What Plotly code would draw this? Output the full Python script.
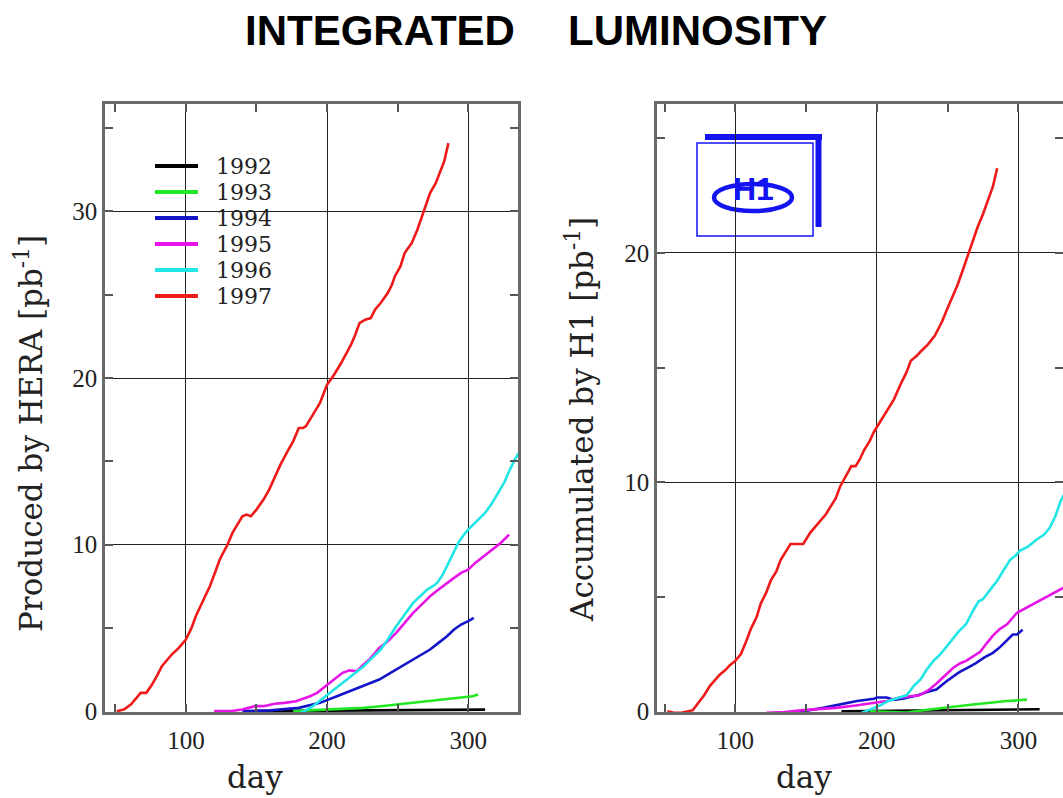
import plotly.graph_objects as go

# ---------------- data ----------------
years = ["1992", "1993", "1994", "1995", "1996", "1997"]
colors = ["#000000", "#22e622", "#1414c8", "#e614e6", "#22e6e6", "#ee1a1a"]

# Left panel: produced by HERA [pb^-1]
hera_day_1992 = [150, 180, 210, 240, 255, 270, 285, 300, 312]
hera_lumi_1992 = [0.0, 0.01, 0.02, 0.03, 0.05, 0.06, 0.07, 0.08, 0.09]

hera_day_1993 = [176, 190, 202, 214, 226, 238, 249, 261, 273, 285, 296, 303, 307]
hera_lumi_1993 = [0.0, 0.05, 0.1, 0.15, 0.2, 0.3, 0.4, 0.5, 0.6, 0.7, 0.8, 0.9, 1.0]

hera_day_1994 = [140, 160, 180, 195, 207, 216, 226, 237, 245, 253, 261, 267, 273, 279, 285, 290, 295, 300, 304]
hera_lumi_1994 = [0.0, 0.05, 0.2, 0.5, 0.9, 1.2, 1.5, 1.9, 2.3, 2.7, 3.1, 3.4, 3.7, 4.1, 4.5, 4.9, 5.2, 5.4, 5.6]

hera_day_1995 = [120, 131, 140, 149, 155, 163, 170, 178, 188, 193, 202, 211, 216, 221, 226, 230, 237,
                 243, 249, 255, 261, 267, 273, 279, 285, 290, 295, 300, 305, 311, 317, 323, 329]
hera_lumi_1995 = [0.0, 0.0, 0.1, 0.3, 0.3, 0.45, 0.5, 0.6, 0.9, 1.1, 1.7, 2.3, 2.45, 2.4, 2.8, 3.1, 3.8,
                  4.2, 4.7, 5.3, 5.9, 6.4, 6.9, 7.3, 7.7, 8.0, 8.3, 8.5, 8.9, 9.3, 9.7, 10.1, 10.6]

hera_day_1996 = [178, 184, 190, 196, 202, 208, 214, 220, 226, 232, 238, 243, 249, 255, 261, 266, 271,
                 275, 278, 282, 285, 289, 293, 297, 300, 306, 312, 317, 322, 326, 329, 333, 338]
hera_lumi_1996 = [-0.2, 0.0, 0.3, 0.7, 1.1, 1.5, 1.9, 2.3, 2.7, 3.2, 3.7, 4.3, 5.1, 5.8, 6.5, 6.9, 7.3,
                  7.5, 7.7, 8.2, 8.7, 9.4, 10.1, 10.6, 10.9, 11.4, 11.9, 12.5, 13.2, 13.8, 14.4, 15.1, 15.8]

hera_day_1997 = [51, 56, 61, 65, 68, 72, 76, 80, 83, 87, 90, 95, 100, 104, 107, 112, 117, 121, 124, 127,
                 129, 133, 137, 140, 143, 146, 150, 155, 159, 163, 167, 172, 176, 180, 183, 185, 190,
                 195, 200, 205, 210, 214, 217, 220, 223, 227, 231, 234, 238, 243, 246, 248, 252, 255,
                 260, 264, 268, 273, 277, 280, 283, 286]
hera_lumi_1997 = [0.0, 0.1, 0.4, 0.8, 1.1, 1.1, 1.6, 2.2, 2.7, 3.1, 3.4, 3.8, 4.3, 5.0, 5.7, 6.6, 7.5, 8.4,
                  9.1, 9.6, 9.9, 10.7, 11.3, 11.7, 11.8, 11.7, 12.1, 12.7, 13.3, 14.1, 14.8, 15.6, 16.2,
                  17.0, 17.0, 17.1, 17.8, 18.5, 19.6, 20.2, 20.9, 21.5, 22.0, 22.6, 23.3, 23.5, 23.6,
                  24.1, 24.5, 25.1, 25.6, 26.1, 26.7, 27.5, 28.1, 28.9, 29.9, 31.1, 31.7, 32.3, 33.0, 34.1]

# Right panel: accumulated by H1 [pb^-1]
h1_day_1992 = [175, 196, 215, 235, 255, 270, 285, 300, 315]
h1_lumi_1992 = [0.0, 0.01, 0.02, 0.03, 0.04, 0.05, 0.06, 0.08, 0.09]

h1_day_1993 = [195, 208, 221, 233, 245, 257, 268, 280, 292, 300, 306]
h1_lumi_1993 = [0.0, -0.03, -0.05, 0.05, 0.15, 0.22, 0.3, 0.38, 0.45, 0.48, 0.51]

h1_day_1994 = [143, 148, 162, 174, 186, 198, 200, 207, 212, 218, 229, 236, 242, 249, 258, 264, 270,
               276, 282, 287, 292, 296, 299, 303]
h1_lumi_1994 = [-0.07, 0.0, 0.15, 0.3, 0.45, 0.55, 0.6, 0.6, 0.5, 0.55, 0.7, 0.85, 0.95, 1.3, 1.7, 1.9,
                2.1, 2.35, 2.55, 2.8, 3.1, 3.35, 3.35, 3.56]

h1_day_1995 = [122, 135, 148, 160, 171, 185, 198, 207, 216, 223, 230, 236, 242, 248, 254, 259, 263,
               268, 273, 278, 282, 287, 292, 299, 305, 311, 317, 323, 329, 335]
h1_lumi_1995 = [-0.07, -0.03, 0.05, 0.1, 0.15, 0.25, 0.35, 0.45, 0.6, 0.65, 0.7, 0.9, 1.2, 1.55, 1.9,
                2.1, 2.2, 2.4, 2.6, 3.0, 3.3, 3.6, 3.8, 4.3, 4.5, 4.7, 4.9, 5.1, 5.3, 5.5]

h1_day_1996 = [184, 190, 196, 202, 208, 216, 221, 226, 231, 235, 240, 245, 250, 254, 258, 263, 268,
               272, 275, 280, 285, 290, 294, 298, 301, 307, 313, 318, 322, 326, 330, 336]
h1_lumi_1996 = [-0.2, -0.05, 0.08, 0.25, 0.45, 0.6, 0.7, 1.1, 1.4, 1.8, 2.2, 2.5, 2.9, 3.2, 3.5, 3.8,
                4.4, 4.8, 4.9, 5.3, 5.7, 6.2, 6.6, 6.8, 7.0, 7.2, 7.5, 7.7, 8.0, 8.5, 9.2, 9.9]

h1_day_1997 = [52, 56, 61, 66, 70, 73, 78, 82, 86, 89, 93, 96, 100, 104, 108, 111, 115, 118, 122, 125,
               129, 132, 136, 139, 143, 148, 153, 157, 160, 164, 167, 171, 174, 179, 182, 185, 188,
               191, 195, 198, 202, 205, 209, 212, 217, 221, 224, 228, 231, 236, 241, 246, 250, 254,
               257, 261, 265, 268, 271, 275, 278, 282, 285]
h1_lumi_1997 = [0.0, -0.05, -0.07, 0.0, 0.05, 0.3, 0.7, 1.1, 1.4, 1.6, 1.8, 2.0, 2.2, 2.5, 3.1, 3.6,
                4.1, 4.7, 5.2, 5.7, 6.1, 6.6, 7.0, 7.3, 7.3, 7.3, 7.8, 8.1, 8.3, 8.6, 8.9, 9.3, 9.8,
                10.4, 10.7, 10.7, 11.0, 11.4, 11.8, 12.2, 12.6, 12.9, 13.3, 13.6, 14.3, 14.8, 15.3,
                15.5, 15.7, 16.0, 16.4, 17.0, 17.6, 18.2, 18.6, 19.3, 20.0, 20.5, 21.1, 21.7, 22.2,
                22.9, 23.7]

hera_days = [hera_day_1992, hera_day_1993, hera_day_1994, hera_day_1995, hera_day_1996, hera_day_1997]
hera_lumis = [hera_lumi_1992, hera_lumi_1993, hera_lumi_1994, hera_lumi_1995, hera_lumi_1996, hera_lumi_1997]
h1_days = [h1_day_1992, h1_day_1993, h1_day_1994, h1_day_1995, h1_day_1996, h1_day_1997]
h1_lumis = [h1_lumi_1992, h1_lumi_1993, h1_lumi_1994, h1_lumi_1995, h1_lumi_1996, h1_lumi_1997]

x_tick_vals = [100, 200, 300]
x_tick_text = ["100", "200", "300"]

title_left_word = "INTEGRATED"
title_right_word = "LUMINOSITY"
ylabel_left = "Produced by HERA [pb<sup>-1</sup>]"
ylabel_right = "Accumulated by H1 [pb<sup>-1</sup>]"
xlabel = "day"

# ---------------- figure ----------------
W, H = 1063, 798


def fx(p):
    return p / W


def fy(p):
    return 1 - p / H


fig = go.Figure()

for i in range(len(years)):
    fig.add_trace(go.Scatter(x=hera_days[i], y=hera_lumis[i], mode="lines",
                             line=dict(color=colors[i], width=2.6), name=years[i],
                             xaxis="x", yaxis="y", showlegend=False))
for i in range(len(years)):
    fig.add_trace(go.Scatter(x=h1_days[i], y=h1_lumis[i], mode="lines",
                             line=dict(color=colors[i], width=2.6), name=years[i],
                             xaxis="x2", yaxis="y2", showlegend=False))

tickfont = dict(family="Liberation Serif", size=25, color="#222")
axis_common = dict(
    showgrid=True, gridcolor="#222", gridwidth=1.2,
    ticks="inside", ticklen=8, tickcolor="#555", tickwidth=1.5,
    showline=True, linecolor="#6a6a6a", linewidth=2.5, mirror="ticks",
    zeroline=False, tickfont=tickfont, automargin=False,
)
minor_x = dict(dtick=50, tick0=0, ticks="inside", ticklen=8, tickcolor="#555", showgrid=False)
minor_y = dict(dtick=5, tick0=0, ticks="inside", ticklen=8, tickcolor="#555", showgrid=False)

ydom = [fy(712), fy(104)]

fig.update_layout(
    width=W, height=H,
    margin=dict(l=0, r=0, t=0, b=0, autoexpand=False),
    paper_bgcolor="white", plot_bgcolor="white",
    showlegend=False,
    xaxis=dict(domain=[fx(105), fx(518)], range=[42.7, 335.3], anchor="y",
               tickvals=x_tick_vals, ticktext=x_tick_text, ticklabelstandoff=4,
               minor=minor_x, **axis_common),
    yaxis=dict(domain=ydom, range=[-0.05, 36.45], anchor="x",
               dtick=10, tick0=0, ticklabelstandoff=0,
               minor=minor_y, **axis_common),
    xaxis2=dict(domain=[fx(657), 1.0], range=[44.7, 331.5], anchor="y2",
                tickvals=x_tick_vals, ticktext=x_tick_text, ticklabelstandoff=4,
                minor=minor_x, **axis_common),
    yaxis2=dict(domain=ydom, range=[-0.03, 26.5], anchor="x2",
                dtick=10, tick0=0, ticklabelstandoff=0,
                minor=minor_y, **axis_common),
)

annotations = []
# title
tfont = dict(family="Liberation Sans", size=42, color="black")
annotations.append(dict(text="<b>" + title_left_word + "</b>", x=fx(380), y=fy(30), xref="paper",
                        yref="paper", xanchor="center", yanchor="middle", showarrow=False, font=tfont))
annotations.append(dict(text="<b>" + title_right_word + "</b>", x=fx(697), y=fy(30), xref="paper",
                        yref="paper", xanchor="center", yanchor="middle", showarrow=False, font=tfont))
# axis titles
lfont = dict(family="DejaVu Serif", size=31, color="#222")
annotations.append(dict(text=ylabel_left, x=fx(29), y=fy(434), xref="paper", yref="paper",
                        textangle=-90, xanchor="center", yanchor="middle", showarrow=False, font=lfont))
annotations.append(dict(text=ylabel_right, x=fx(580), y=fy(420), xref="paper", yref="paper",
                        textangle=-90, xanchor="center", yanchor="middle", showarrow=False, font=lfont))
annotations.append(dict(text=xlabel, x=fx(255), y=fy(777), xref="paper", yref="paper",
                        xanchor="center", yanchor="middle", showarrow=False, font=lfont))
annotations.append(dict(text=xlabel, x=fx(804), y=fy(777), xref="paper", yref="paper",
                        xanchor="center", yanchor="middle", showarrow=False, font=lfont))

shapes = []
# legend (left panel, upper-left corner): swatches + labels
leg_font = dict(family="DejaVu Serif", size=22, color="#222")
for i, yr in enumerate(years):
    yc = 166 + 26 * i
    shapes.append(dict(type="line", xref="paper", yref="paper", x0=fx(155), x1=fx(198),
                       y0=fy(yc), y1=fy(yc), line=dict(color=colors[i], width=4), layer="above"))
    annotations.append(dict(text=yr, x=fx(214), y=fy(yc), xref="paper", yref="paper",
                            xanchor="left", yanchor="middle", showarrow=False, height=24,
                            font=leg_font))

# H1 logo (right panel, upper-left corner)
logo_blue = "#1414f0"
shapes.append(dict(type="rect", xref="paper", yref="paper", x0=fx(697), x1=fx(813),
                   y0=fy(236), y1=fy(143), line=dict(color=logo_blue, width=1.5), layer="below"))
shapes.append(dict(type="line", xref="paper", yref="paper", x0=fx(705), x1=fx(822),
                   y0=fy(137), y1=fy(137), line=dict(color=logo_blue, width=6), layer="below"))
shapes.append(dict(type="line", xref="paper", yref="paper", x0=fx(818.5), x1=fx(818.5),
                   y0=fy(134), y1=fy(227), line=dict(color=logo_blue, width=6), layer="below"))
shapes.append(dict(type="circle", xref="paper", yref="paper", x0=fx(714), x1=fx(792),
                   y0=fy(211), y1=fy(184), line=dict(color=logo_blue, width=4.5), layer="below"))
annotations.append(dict(text="<b>H1</b>", x=fx(753), y=fy(189), xref="paper", yref="paper",
                        xanchor="center", yanchor="middle", showarrow=False,
                        font=dict(family="Liberation Sans", size=32, color=logo_blue)))

fig.update_layout(annotations=annotations, shapes=shapes)

fig.write_html("out.html", config={"displayModeBar": False},
               post_script="document.body.style.margin='0';")
